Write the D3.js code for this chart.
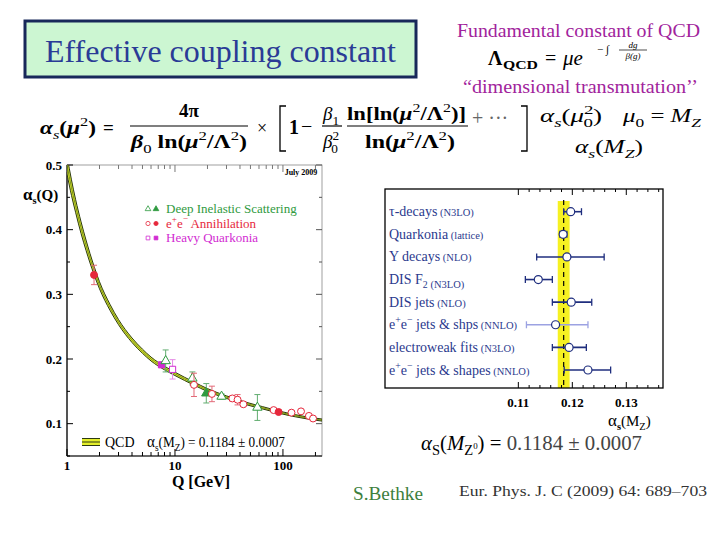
<!DOCTYPE html>
<html>
<head>
<meta charset="utf-8">
<script src="https://cdn.jsdelivr.net/npm/d3@7"></script>
<style>
  body { margin: 0; background: #fff; }
  text, tspan { font-family: 'Liberation Serif', 'Times New Roman', serif; }
</style>
</head>
<body>
<svg id="slide" width="720" height="540"></svg>
<script>
// ---- running coupling curve
const curveQ   = [1.0, 1.1, 1.2, 1.35, 1.5, 1.78, 2, 2.5, 3, 4, 5, 6, 8, 10, 15, 20, 30, 45, 65, 91.2, 130, 180, 230];
const curveA   = [0.50, 0.465, 0.437, 0.403, 0.376, 0.337, 0.314, 0.280, 0.257, 0.229, 0.212, 0.200, 0.186, 0.177, 0.162, 0.152, 0.141, 0.1315, 0.1245, 0.118, 0.1123, 0.108, 0.1056];
const curveErr = [0.014, 0.012, 0.010, 0.009, 0.008, 0.0065, 0.0055, 0.0046, 0.004, 0.0035, 0.0032, 0.003, 0.0028, 0.0026, 0.0024, 0.0022, 0.002, 0.0019, 0.0018, 0.0017, 0.0017, 0.0016, 0.0016];

// ---- measurements in the left panel
const disQ = [8.2, 14.5, 19.5, 27, 58];
const disA = [0.197, 0.170, 0.147, 0.142, 0.125];
const disE = [0.017, 0.010, 0.015, 0.004, 0.020];
const disFilled = [0, 0, 1, 0, 0];

const eeQ = [1.78, 15, 22, 34, 38, 43, 82, 91.2, 120, 147, 174, 190];
const eeA = [0.330, 0.160, 0.146, 0.139, 0.137, 0.130, 0.121, 0.118, 0.117, 0.119, 0.112, 0.108];
const eeE = [0.015, 0.018, 0.012, 0.004, 0.008, 0.003, 0.002, 0.002, 0.003, 0.003, 0.003, 0.003];
const eeFilled = [1, 0, 0, 0, 0, 0, 0, 1, 0, 0, 0, 0];

const hqQ = [7.5, 9.5];
const hqA = [0.191, 0.184];
const hqE = [0.004, 0.015];
const hqFilled = [1, 0];

const leftYTicks = [0.1, 0.2, 0.3, 0.4, 0.5];
const leftXTicks = [1, 10, 100];

// ---- right panel: alpha_s(MZ) summary
const measNames = ["τ-decays", "Quarkonia", "Υ decays", "DIS  F_2", "DIS  jets", "e^+e^− jets & shps", "electroweak fits", "e^+e^− jets & shapes"];
const measOrder = ["(N3LO)", "(lattice)", "(NLO)", "(N3LO)", "(NLO)", "(NNLO)", "(N3LO)", "(NNLO)"];
const measVal = [0.1197, 0.1183, 0.1190, 0.1137, 0.1198, 0.1169, 0.1194, 0.1229];
const measLo  = [0.1184, 0.1177, 0.1134, 0.1113, 0.1163, 0.1115, 0.1163, 0.1185];
const measHi  = [0.1217, 0.1190, 0.1259, 0.1163, 0.1236, 0.1229, 0.1226, 0.1271];
const worldAvg = 0.1184;
const worldBand = [0.1173, 0.1195];
const rightXTicks = [0.11, 0.12, 0.13];

const svg = d3.select('#slide');
svg.append('rect').attr('width', 720).attr('height', 540).attr('fill', '#fff');

// rich text helper: segments {t, i, b, sh(-1 sub, 1 sup), fs}
function rich(sel, x, y, segs, fs, fill, anchor) {
  let t = sel.append('text').attr('x', x).attr('y', y)
    .attr('font-size', fs).attr('fill', fill || '#000')
    .attr('text-anchor', anchor || 'start');
  let cur = 0;
  segs.forEach(s => {
    let sh = s.sh || 0;
    let size = s.fs || (sh ? fs * 0.7 : fs);
    let target = sh == 1 ? -fs * 0.42 : (sh == -1 ? fs * 0.25 : 0);
    if (s.up) target = s.up;
    let sp = t.append('tspan').text(s.t)
      .attr('dy', target - cur)
      .attr('font-size', size);
    if (s.i) sp.attr('font-style', 'italic');
    if (s.b) sp.attr('font-weight', 'bold');
    if (s.fill) sp.attr('fill', s.fill);
    if (s.dx) sp.attr('dx', s.dx);
    cur = target;
  });
  return t;
}

// split "e^+e^−" style names into segments
function parseName(str) {
  let segs = [], buf = '';
  for (let k = 0; k < str.length; k++) {
    let c = str[k];
    if ((c == '^' || c == '_') && k + 1 < str.length) {
      if (buf) { segs.push({t: buf}); buf = ''; }
      segs.push({t: str[k + 1], sh: c == '^' ? 1 : -1});
      k++;
    } else buf += c;
  }
  if (buf) segs.push({t: buf});
  return segs;
}

function hline(sel, x1, x2, y, w) {
  sel.append('line').attr('x1', x1).attr('x2', x2).attr('y1', y).attr('y2', y)
    .attr('stroke', '#000').attr('stroke-width', w || 1.2);
}
function fit(t, len) {
  return t.attr('textLength', len).attr('lengthAdjust', 'spacingAndGlyphs');
}

// ================= title box & formulas
svg.append('rect').attr('x', 25).attr('y', 21).attr('width', 391).attr('height', 56)
  .attr('fill', '#ccf6d2').attr('stroke', '#18285a').attr('stroke-width', 3);
fit(svg.append('text').attr('x', 45).attr('y', 62)
  .attr('font-size', 31).attr('fill', '#2a3b96')
  .text('Effective coupling constant'), 351);

const purple = '#a1239c';
fit(svg.append('text').attr('x', 457).attr('y', 37)
  .attr('font-size', 19).attr('fill', purple)
  .text('Fundamental constant of QCD'), 243);
fit(svg.append('text').attr('x', 463).attr('y', 93)
  .attr('font-size', 19).attr('fill', purple)
  .text('“dimensional transmutation’’'), 235);

svg.append('text').attr('x', 488).attr('y', 65).attr('font-size', 20).attr('font-weight', 'bold').text('Λ');
fit(svg.append('text').attr('x', 503).attr('y', 69).attr('font-size', 12).attr('font-weight', 'bold').text('QCD'), 35);
svg.append('text').attr('x', 545).attr('y', 65).attr('font-size', 20).text('=');
rich(svg, 563, 65, [{t: 'μe', i: true}], 21);
svg.append('text').attr('x', 597).attr('y', 53).attr('font-size', 11).text('− ∫');
svg.append('text').attr('x', 633).attr('y', 47.5).attr('text-anchor', 'middle').attr('font-size', 9).attr('font-style', 'italic').text('dg');
hline(svg, 619, 647, 50, 0.7);
svg.append('text').attr('x', 633).attr('y', 59).attr('text-anchor', 'middle').attr('font-size', 9).attr('font-style', 'italic').text('β(g)');

// main formula
const fF = 19;
fit(rich(svg, 40, 134, [{t: 'α', i: true, b: true}, {t: 's', i: true, sh: -1}, {t: '(', b: true}, {t: 'μ', i: true, b: true}, {t: '2', sh: 1}, {t: ')', b: true}], fF), 56);
svg.append('text').attr('x', 103).attr('y', 134).attr('font-size', fF).attr('font-weight', 'bold').text('=');
rich(svg, 189, 117, [{t: '4π', b: true}], fF, '#000', 'middle');
hline(svg, 130, 248, 126);
fit(rich(svg, 131, 148, [{t: 'β', i: true, b: true}, {t: '0', sh: -1}, {t: ' ln(', b: true}, {t: 'μ', i: true, b: true}, {t: '2', sh: 1}, {t: '/Λ', b: true}, {t: '2', sh: 1}, {t: ')', b: true}], fF), 116);
svg.append('text').attr('x', 262).attr('y', 134).attr('text-anchor', 'middle').attr('font-size', 18).text('×');
svg.append('path').attr('d', 'M286,106 H280 V151 H286').attr('fill', 'none').attr('stroke', '#000').attr('stroke-width', 1.3);
rich(svg, 289, 134, [{t: '1', b: true}], 20);
svg.append('text').attr('x', 301).attr('y', 133).attr('font-size', 20).text('−');
rich(svg, 323, 120, [{t: 'β', i: true}, {t: '1', sh: -1}], fF);
hline(svg, 322, 342, 126);
rich(svg, 323, 148, [{t: 'β', i: true}, {t: '2', sh: 1}, {t: '0', sh: -1, dx: -8}], fF);
fit(rich(svg, 347, 120, [{t: 'ln[ln(', b: true}, {t: 'μ', i: true, b: true}, {t: '2', sh: 1}, {t: '/Λ', b: true}, {t: '2', sh: 1}, {t: ')]', b: true}], fF), 119);
hline(svg, 347, 468, 126);
fit(rich(svg, 365, 148, [{t: 'ln(', b: true}, {t: 'μ', i: true, b: true}, {t: '2', sh: 1}, {t: '/Λ', b: true}, {t: '2', sh: 1}, {t: ')', b: true}], fF), 90);
svg.append('text').attr('x', 472).attr('y', 125).attr('font-size', 20).attr('fill', '#666').text('+ ···');
svg.append('path').attr('d', 'M521,106 H527 V151 H521').attr('fill', 'none').attr('stroke', '#000').attr('stroke-width', 1.3);
fit(rich(svg, 540, 122, [{t: 'α', i: true}, {t: 's', i: true, sh: -1}, {t: '('}, {t: 'μ', i: true}, {t: '2', sh: 1}, {t: '0', sh: -1, dx: -7}, {t: ')'}], 19), 62);
fit(rich(svg, 623, 122, [{t: 'μ', i: true}, {t: '0', sh: -1}, {t: ' = '}, {t: 'M', i: true}, {t: 'Z', i: true, sh: -1}], 19), 78);
fit(rich(svg, 575, 153, [{t: 'α', i: true}, {t: 's', i: true, sh: -1}, {t: '('}, {t: 'M', i: true}, {t: 'Z', i: true, sh: -1}, {t: ')'}], 19), 68);

// ================= left panel
const xL = d3.scaleLog().domain([1, 230]).range([67, 322]);
const yL = d3.scaleLinear().domain([0.05, 0.5]).range([456, 165]);
const left = svg.append('g');

left.append('clipPath').attr('id', 'clipL').append('rect')
  .attr('x', 67).attr('y', 165).attr('width', 255).attr('height', 291);

left.append('rect').attr('x', 67).attr('y', 165).attr('width', 255).attr('height', 291)
  .attr('fill', 'none').attr('stroke', '#888').attr('stroke-width', 0.8);
left.append('line').attr('x1', 67).attr('x2', 67).attr('y1', 165).attr('y2', 456).attr('stroke', '#000').attr('stroke-width', 1.2);
left.append('line').attr('x1', 67).attr('x2', 322).attr('y1', 456).attr('y2', 456).attr('stroke', '#000').attr('stroke-width', 1.2);

// y ticks (inward, both sides)
d3.range(0.05, 0.501, 0.05).forEach(v => {
  let major = Math.abs(v * 10 - Math.round(v * 10)) < 1e-6;
  let len = major ? 6 : 3;
  left.append('line').attr('x1', 67).attr('x2', 67 + len).attr('y1', yL(v)).attr('y2', yL(v)).attr('stroke', '#000');
  left.append('line').attr('x1', 322).attr('x2', 322 - len).attr('y1', yL(v)).attr('y2', yL(v)).attr('stroke', '#555');
});
leftYTicks.forEach(v => {
  left.append('text').attr('x', 62).attr('y', yL(v) + 4.5).attr('text-anchor', 'end')
    .attr('font-size', 13).attr('font-weight', 'bold').text(v.toFixed(1));
});
// x ticks (log)
xL.ticks().filter(v => v <= 230).forEach(v => {
  let major = leftXTicks.indexOf(v) >= 0;
  let len = major ? 7 : 4;
  left.append('line').attr('x1', xL(v)).attr('x2', xL(v)).attr('y1', 456).attr('y2', 456 - len).attr('stroke', '#000');
  left.append('line').attr('x1', xL(v)).attr('x2', xL(v)).attr('y1', 165).attr('y2', 165 + len).attr('stroke', '#777');
});
leftXTicks.forEach(v => {
  left.append('text').attr('x', xL(v)).attr('y', 470).attr('text-anchor', 'middle')
    .attr('font-size', 13).attr('font-weight', 'bold').text(v);
});
rich(left, 201, 487, [{t: 'Q [GeV]', b: true}], 16, '#000', 'middle');
rich(left, 23, 200, [{t: 'α', b: true, fs: 17}, {t: 's', b: true, sh: -1}, {t: '(Q)', b: true}], 15);
left.append('text').attr('x', 301).attr('y', 175).attr('text-anchor', 'middle')
  .attr('font-size', 8).attr('font-weight', 'bold').text('July 2009');

// QCD band
const idx = d3.range(curveQ.length);
const band = d3.area()
  .x(i => xL(curveQ[i]))
  .y0(i => yL(curveA[i] - curveErr[i]))
  .y1(i => yL(curveA[i] + curveErr[i]))
  .curve(d3.curveMonotoneX);
const mid = d3.line().x(i => xL(curveQ[i])).y(i => yL(curveA[i])).curve(d3.curveMonotoneX);
const bandG = left.append('g').attr('clip-path', 'url(#clipL)');
bandG.append('path').attr('d', band(idx)).attr('fill', '#e3ee2a').attr('stroke', '#2c3a12').attr('stroke-width', 1);
bandG.append('path').attr('d', mid(idx)).attr('fill', 'none').attr('stroke', '#4d6a1a').attr('stroke-width', 0.7);

// data points
function drawSet(qs, as, es, filled, shape, col, barCol) {
  const g = left.append('g');
  qs.forEach((q, i) => {
    let x = xL(q);
    g.append('line').attr('x1', x).attr('x2', x).attr('y1', yL(as[i] - es[i])).attr('y2', yL(as[i] + es[i]))
      .attr('stroke', barCol).attr('stroke-width', 1);
    [as[i] - es[i], as[i] + es[i]].forEach(v => {
      g.append('line').attr('x1', x - 3).attr('x2', x + 3).attr('y1', yL(v)).attr('y2', yL(v))
        .attr('stroke', barCol).attr('stroke-width', 1);
    });
    g.append('path').attr('transform', `translate(${x},${yL(as[i])})`)
      .attr('d', d3.symbol().type(shape).size(38)())
      .attr('fill', filled[i] ? col : '#fff').attr('stroke', col).attr('stroke-width', 1);
  });
}
drawSet(hqQ, hqA, hqE, hqFilled, d3.symbolSquare, '#d22bd2', '#e58ae5');
drawSet(disQ, disA, disE, disFilled, d3.symbolTriangle, '#2f9a40', '#62ad70');
drawSet(eeQ, eeA, eeE, eeFilled, d3.symbolCircle, '#e6283c', '#e36a78');

// legend
const legRows = [
  {name: 'Deep Inelastic Scattering', shape: d3.symbolTriangle, col: '#2f9a40'},
  {name: 'e^+e^− Annihilation', shape: d3.symbolCircle, col: '#e6283c'},
  {name: 'Heavy Quarkonia', shape: d3.symbolSquare, col: '#d22bd2'}
];
legRows.forEach((r, i) => {
  let y = 213 + i * 14.5;
  [0, 1].forEach(f => {
    left.append('path').attr('transform', `translate(${148 + f * 8},${y - 4})`)
      .attr('d', d3.symbol().type(r.shape).size(14)())
      .attr('fill', f ? r.col : '#fff').attr('stroke', r.col).attr('stroke-width', 0.8);
  });
  rich(left, 166, y, parseName(r.name), 13, r.col);
});
// QCD legend
left.append('rect').attr('x', 82).attr('y', 438).attr('width', 18).attr('height', 8).attr('fill', '#e3ee2a');
[438.5, 442, 445.5].forEach(y => {
  left.append('line').attr('x1', 82).attr('x2', 100).attr('y1', y).attr('y2', y).attr('stroke', '#2c3a12').attr('stroke-width', 1);
});
left.append('text').attr('x', 105).attr('y', 447).attr('font-size', 14).text('QCD');
fit(rich(left, 147, 447, [{t: 'α', fs: 16}, {t: 's', sh: -1}, {t: '(M'}, {t: 'Z', sh: -1}, {t: ') = 0.1184 ± 0.0007'}], 14), 138);

// ================= right panel
const xR = d3.scaleLinear().domain([0.0853, 0.1368]).range([385, 663]);
const yR = d3.scalePoint().domain(d3.range(measNames.length)).range([211.7, 370]);
const right = svg.append('g');

right.append('rect').attr('x', xR(worldBand[0])).attr('y', 201)
  .attr('width', xR(worldBand[1]) - xR(worldBand[0])).attr('height', 388 - 201).attr('fill', '#f6f122');
right.append('line').attr('x1', xR(worldAvg)).attr('x2', xR(worldAvg)).attr('y1', 200).attr('y2', 388)
  .attr('stroke', '#000').attr('stroke-width', 1.2).attr('stroke-dasharray', '5,4');
right.append('rect').attr('x', 385).attr('y', 189).attr('width', 278).attr('height', 199)
  .attr('fill', 'none').attr('stroke', '#000').attr('stroke-width', 1.3);

d3.range(0.110, 0.1365, 0.002).forEach(v => {
  let major = rightXTicks.some(t => Math.abs(t - v) < 1e-6);
  let len = major ? 6 : 3;
  right.append('line').attr('x1', xR(v)).attr('x2', xR(v)).attr('y1', 388).attr('y2', 388 - len).attr('stroke', '#000');
  right.append('line').attr('x1', xR(v)).attr('x2', xR(v)).attr('y1', 189).attr('y2', 189 + len).attr('stroke', '#000');
});
rightXTicks.forEach(v => {
  right.append('text').attr('x', xR(v)).attr('y', 407).attr('text-anchor', 'middle')
    .attr('font-size', 13).attr('font-weight', 'bold').text(v.toFixed(2));
});
rich(right, 608, 426, [{t: 'α', fs: 17}, {t: 's', sh: -1, b: true}, {t: '(M'}, {t: 'Z', sh: -1}, {t: ')'}], 15);

const navy = '#2b3a8e';
measNames.forEach((name, i) => {
  let y = yR(i);
  let t = rich(right, 389, y + 4.5, parseName(name), 14, navy);
  t.append('tspan').text(' ' + measOrder[i]).attr('font-size', 10.5).attr('dy', 0);
  let col = i == 5 ? '#9ca2e2' : '#1f2e7e';
  right.append('line').attr('x1', xR(measLo[i])).attr('x2', xR(measHi[i])).attr('y1', y).attr('y2', y)
    .attr('stroke', col).attr('stroke-width', 1.6);
  [measLo[i], measHi[i]].forEach(v => {
    right.append('line').attr('x1', xR(v)).attr('x2', xR(v)).attr('y1', y - 3.5).attr('y2', y + 3.5)
      .attr('stroke', col).attr('stroke-width', 1.3);
  });
  right.append('circle').attr('cx', xR(measVal[i])).attr('cy', y).attr('r', 4)
    .attr('fill', '#fff').attr('stroke', '#1f2e7e').attr('stroke-width', 1.2);
});

// ================= bottom texts
fit(rich(svg, 421, 450, [{t: 'α', i: true}, {t: 'S', sh: -1}, {t: '('}, {t: 'M', i: true}, {t: 'Z', sh: -1}, {t: '0', fs: 9, up: -1}, {t: ') = ', fill: '#000'}, {t: '0.1184 ± 0.0007', fill: '#444'}], 21), 221);
fit(svg.append('text').attr('x', 353).attr('y', 500).attr('font-size', 18).attr('fill', '#3d803d')
  .text('S.Bethke'), 70);
fit(svg.append('text').attr('x', 459).attr('y', 496).attr('font-size', 15).attr('fill', '#333')
  .text('Eur. Phys. J. C (2009) 64: 689–703'), 248);
</script>
</body>
</html>
